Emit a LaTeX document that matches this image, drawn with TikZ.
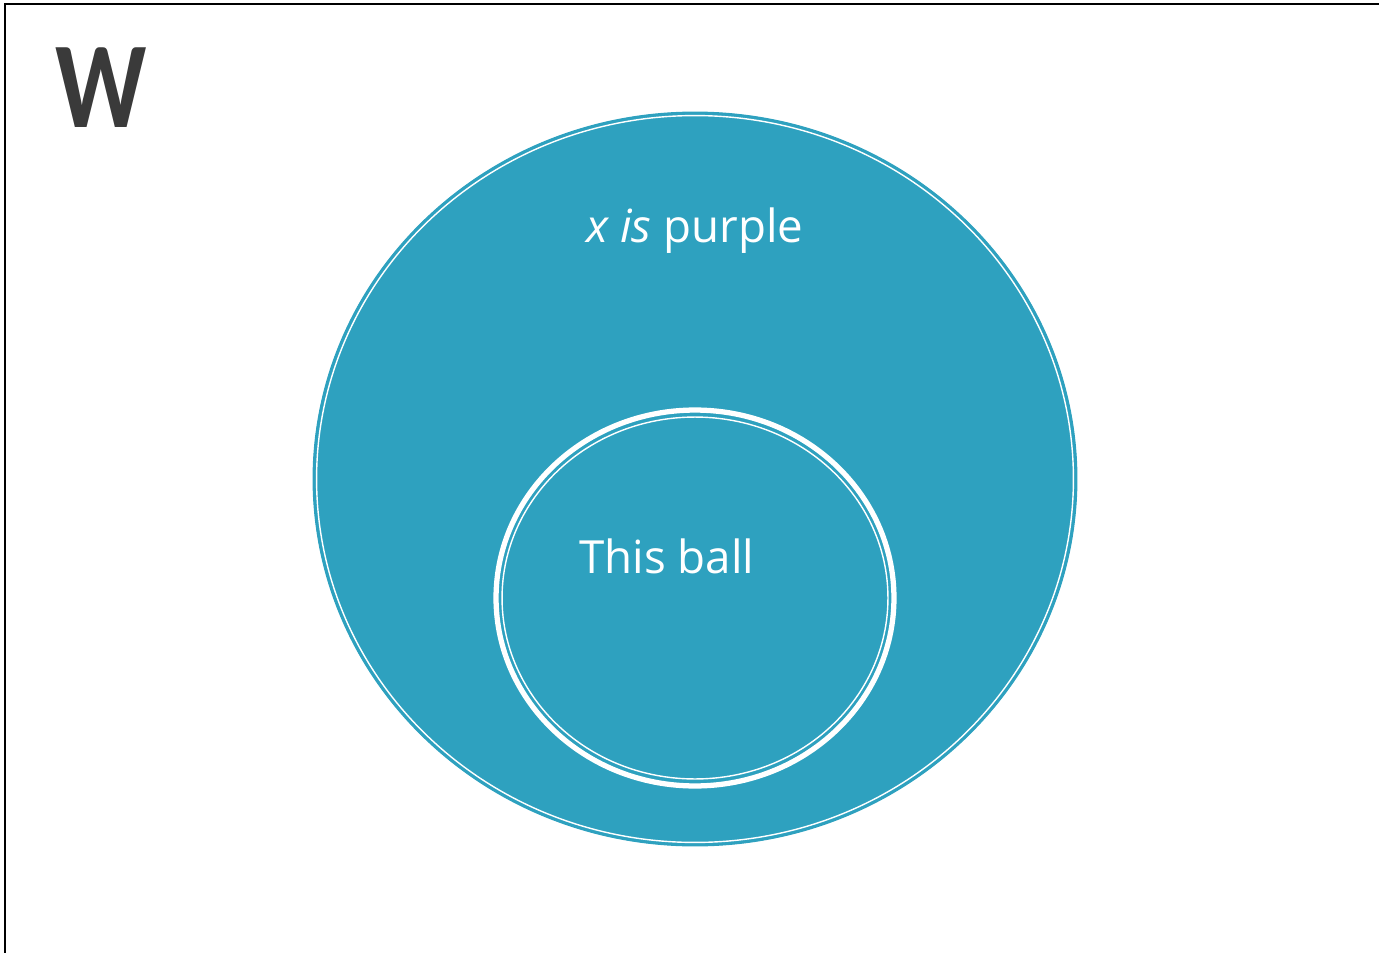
\documentclass[tikz,border=0pt]{standalone}
\usepackage{fontspec}
\setmainfont{Open Sans}
\newfontfamily\calfont{Carlito}
\usetikzlibrary{shapes.geometric}
\definecolor{ballblue}{RGB}{46,161,191}
\definecolor{wgray}{RGB}{58,58,58}

\begin{document}
\begin{tikzpicture}[x=0.02cm,y=-0.02cm,
 region/.style={ellipse,fill=ballblue,draw=ballblue,line width=0.6pt,inner sep=0pt},
 rim/.style={ellipse,draw=white,inner sep=0pt},
 caption/.style={text=white,anchor=base,inner sep=0pt,font=\fontsize{26}{30}\selectfont}]
\useasboundingbox (0,0) rectangle (1379,953);
\draw[line width=1.2pt] (5,953) -- (5,4) -- (1379,4);
% the letter in the corner
\node[anchor=base,text=wgray,xscale=0.82,font=\calfont\bfseries\fontsize{70}{70}\selectfont] (world) at (101,128) {W};
% the two sets
\node[region,minimum width=15.28cm,minimum height=14.68cm] (purple) at (695,479) {};
\node[rim,line width=0.8pt,minimum width=15.14cm,minimum height=14.54cm] at (purple.center) {};
\node[rim,line width=3pt,minimum width=7.96cm,minimum height=7.52cm] (ball) at (695,598) {};
\node[rim,line width=0.8pt,minimum width=7.72cm,minimum height=7.24cm] at (ball.center) {};
\node[caption] (purplelabel) at (695,242) {\textit{x is} purple};
\node[caption] (balllabel) at (667,573) {This ball};
\end{tikzpicture}
\end{document}
